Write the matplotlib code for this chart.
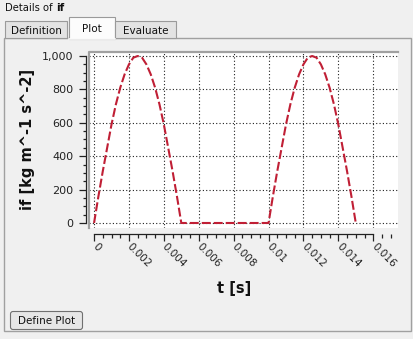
import matplotlib
matplotlib.use("Agg")
import matplotlib.pyplot as plt
from matplotlib.patches import Rectangle, FancyBboxPatch
from matplotlib.lines import Line2D
from matplotlib.ticker import MultipleLocator

# values
t_vals = [0.0, 0.00025, 0.0005, 0.00075, 0.001, 0.00125, 0.0015, 0.00175, 0.002, 0.00225,
          0.0025, 0.00275, 0.003, 0.00325, 0.0035, 0.00375, 0.004, 0.00425, 0.0045, 0.00475, 0.005,
          0.0055, 0.006, 0.0065, 0.007, 0.0075, 0.008, 0.0085, 0.009, 0.0095,
          0.01, 0.01025, 0.0105, 0.01075, 0.011, 0.01125, 0.0115, 0.01175, 0.012, 0.01225,
          0.0125, 0.01275, 0.013, 0.01325, 0.0135, 0.01375, 0.014, 0.01425, 0.0145, 0.01475, 0.015]
if_vals = [0, 160, 310, 450, 590, 710, 810, 890, 950, 990,
           1000, 990, 950, 890, 810, 710, 590, 450, 310, 160, 0,
           0, 0, 0, 0, 0, 0, 0, 0, 0,
           0, 160, 310, 450, 590, 710, 810, 890, 950, 990,
           1000, 990, 950, 890, 810, 710, 590, 450, 310, 160, 0]
x_ticks = [0, 0.002, 0.004, 0.006, 0.008, 0.01, 0.012, 0.014, 0.016]
x_tick_labels = ["0", "0.002", "0.004", "0.006", "0.008", "0.01", "0.012", "0.014", "0.016"]
y_ticks = [0, 200, 400, 600, 800, 1000]
y_tick_labels = ["0", "200", "400", "600", "800", "1,000"]

W, H = 414, 339
BG = "#f0f0f0"
fig = plt.figure(figsize=(W / 100, H / 100), dpi=100, facecolor=BG)

# gui layer in pixel coords
gui = fig.add_axes([0, 0, 1, 1])
gui.set_xlim(0, W)
gui.set_ylim(H, 0)
gui.axis("off")

# panel
gui.add_patch(Rectangle((4, 38), 407, 293, fc=BG, ec="#a0a0a0", lw=1))
# tabs
for x0, x1, label, sel in [(5, 67, "Definition", False), (69, 115, "Plot", True), (115, 176, "Evaluate", False)]:
    top = 17 if sel else 21
    fc = "#fcfcfc" if sel else "#e3e3e3"
    gui.add_patch(Rectangle((x0, top), x1 - x0, 38 - top + (1 if sel else 0), fc=fc, ec="#9a9a9a", lw=0.8))
    gui.text((x0 + x1) / 2, (top + 38) / 2 + 1, label, ha="center", va="center", fontsize=7.5, color="#111111")
gui.plot([69.4, 114.6], [38.5, 38.5], color="#fcfcfc", lw=1.2)
gui.text(5, 8, "Details of", ha="left", va="center", fontsize=7.2, color="#111111")
gui.text(56.5, 8, "if", ha="left", va="center", fontsize=7.5, fontweight="bold", color="#111111")

# button
gui.add_patch(FancyBboxPatch((10.5, 311.5), 72, 18, boxstyle="round,pad=0,rounding_size=2.5",
                             fc="#e6e6e6", ec="#707070", lw=0.8))
gui.text(46.5, 320.5, "Define Plot", ha="center", va="center", fontsize=7.5, color="#111111")

# axis labels
gui.text(28, 139, "if [kg m^-1 s^-2]", rotation=90, ha="center", va="center",
         fontsize=10.5, fontweight="bold", color="#111111")
gui.text(234, 289, "t [s]", ha="center", va="center", fontsize=10.5, fontweight="bold", color="#111111")

# plot area
ax = fig.add_axes([89 / W, 1 - 228 / H, (398 - 89) / W, (228 - 52) / H])
ax.set_facecolor("white")
ax.plot(t_vals, if_vals, color="#c01f35", lw=1.5, dashes=(4.3, 1.45), zorder=3)

ax.set_xlim(-0.00029, 0.01742)
ax.set_ylim(-30, 1024)

ax.set_xticks(x_ticks)
ax.set_xticklabels(x_tick_labels)
ax.xaxis.set_minor_locator(MultipleLocator(0.0005))
ax.set_yticks(y_ticks)
ax.set_yticklabels(y_tick_labels)
ax.yaxis.set_minor_locator(MultipleLocator(50))

ax.grid(True, which="major", color="#202020", lw=0.8, linestyle=(0, (1, 2)))

for s in ["top", "right"]:
    ax.spines[s].set_visible(False)
ax.spines["left"].set_position(("outward", 2.2))
ax.spines["left"].set_bounds(0, 1000)
ax.spines["bottom"].set_position(("outward", 4.3))
ax.spines["bottom"].set_bounds(0, 0.016)
for s in ["left", "bottom"]:
    ax.spines[s].set_color("#222222")
    ax.spines[s].set_linewidth(0.9)

# gray frame at top and left of the plot area
ax.add_line(Line2D([0, 0, 1], [0, 1, 1], transform=ax.transAxes, color="#a0a0a0", lw=1.6, clip_on=False))

ax.tick_params(axis="y", which="major", length=5, width=0.9, pad=4, labelsize=8, colors="#222222")
ax.tick_params(axis="y", which="minor", length=2.5, width=0.9, colors="#222222")
ax.tick_params(axis="x", which="major", length=5, width=0.9, pad=3, labelsize=7.5, colors="#222222")
ax.tick_params(axis="x", which="minor", length=2.8, width=0.9, colors="#222222")
for lbl in ax.get_xticklabels():
    lbl.set_rotation(-45)
    lbl.set_ha("left")
    lbl.set_va("center")
    lbl.set_rotation_mode("anchor")

fig.savefig("out.png", dpi=100, facecolor=BG)
